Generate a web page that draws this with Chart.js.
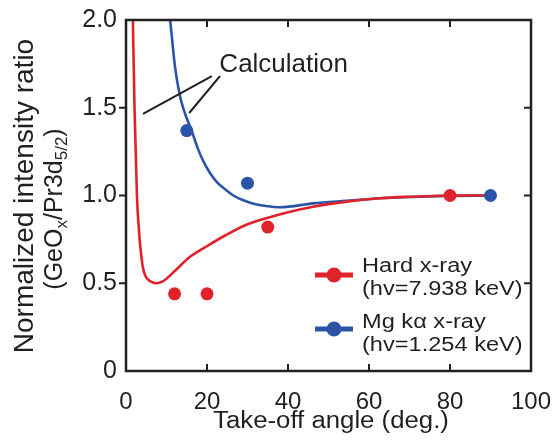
<!DOCTYPE html>
<html><head><meta charset="utf-8">
<script src="https://cdn.jsdelivr.net/npm/chart.js@4.4.1/dist/chart.umd.min.js"></script>
<style>html,body{margin:0;padding:0;background:#fff}#wrap{width:560px;height:448px}</style>
</head><body><div id="wrap"><canvas id="c" width="560" height="448"></canvas></div>
<script>
// ---- data ----
const xTicks = [0, 20, 40, 60, 80, 100];
const yTicks = [0, 0.5, 1.0, 1.5, 2.0];

const hardAngles = [12, 20, 35, 80];
const hardRatios = [0.44, 0.44, 0.82, 1.0];
const mgAngles = [15, 30, 90];
const mgRatios = [1.37, 1.07, 1.0];

const hardCalcAngles = [1.55, 1.7, 2.1, 2.7, 3.2, 4.1, 4.9, 6.2, 7.4, 9.0, 12.3, 15.5, 19.75, 24.7, 29.6, 34.6, 39.5, 46.2, 54.5, 62.7, 70.1, 77.5, 84, 89];
const hardCalcRatios = [2.2, 2.0, 1.5, 1.0, 0.8, 0.6, 0.537, 0.509, 0.50, 0.509, 0.575, 0.645, 0.708, 0.775, 0.832, 0.87, 0.902, 0.936, 0.965, 0.984, 0.993, 0.999, 1.0, 1.0];
const mgCalcAngles = [10.6, 10.9, 12.1, 13.3, 14.1, 15.0, 16.2, 17.7, 19.0, 20.7, 22.5, 24.7, 26.5, 28.8, 31.5, 34.6, 38.0, 46.2, 54.5, 62.7, 72.6, 80, 90];
const mgCalcRatios = [2.06, 2.0, 1.733, 1.57, 1.5, 1.44, 1.37, 1.27, 1.2, 1.13, 1.075, 1.031, 1.0, 0.974, 0.953, 0.94, 0.933, 0.955, 0.970, 0.984, 0.993, 0.998, 1.0];

const legendItems = ["Hard x-ray", "(hv=7.938 keV)", "Mg k\u03b1 x-ray", "(hv=1.254 keV)"];
const xTitle = "Take-off angle (deg.)";
const yTitle1 = "Normalized intensity ratio";
const annotText = "Calculation";

// ---- style ----
const RED = '#e0232b', BLUE = '#2a54a8', INK = '#231f20';
const FONT = '"Liberation Sans", Arial, sans-serif';

function pts(xs, ys) { return xs.map((x, i) => ({x: x, y: ys[i]})); }

function stretchText(ctx, s, x, y, sx, align) {
  ctx.save();
  ctx.translate(x, y);
  ctx.scale(sx, 1);
  ctx.textAlign = align || 'left';
  ctx.fillText(s, 0, 0);
  ctx.restore();
}

const decor = {
  id: 'decor',
  afterDraw(chart) {
    const ctx = chart.ctx, a = chart.chartArea;
    const xs = chart.scales.x, ys = chart.scales.y;
    ctx.save();
    // frame
    ctx.strokeStyle = INK; ctx.lineWidth = 2.5;
    ctx.strokeRect(a.left, a.top, a.right - a.left, a.bottom - a.top);
    // ticks
    ctx.lineWidth = 2;
    xTicks.slice(1, -1).forEach(v => {
      const px = xs.getPixelForValue(v);
      ctx.beginPath(); ctx.moveTo(px, a.bottom); ctx.lineTo(px, a.bottom - 7); ctx.stroke();
      ctx.beginPath(); ctx.moveTo(px, a.top); ctx.lineTo(px, a.top + 7); ctx.stroke();
    });
    yTicks.slice(1, -1).forEach(v => {
      const py = ys.getPixelForValue(v);
      ctx.beginPath(); ctx.moveTo(a.left, py); ctx.lineTo(a.left - 7, py); ctx.stroke();
      ctx.beginPath(); ctx.moveTo(a.right, py); ctx.lineTo(a.right - 7, py); ctx.stroke();
    });

    ctx.fillStyle = INK;
    ctx.textBaseline = 'alphabetic';
    // x title
    ctx.font = '23px ' + FONT;
    stretchText(ctx, xTitle, 331, 428, 1.12, 'center');

    // y title line 1
    ctx.save();
    ctx.translate(33, 196);
    ctx.rotate(-Math.PI / 2);
    ctx.font = '28px ' + FONT;
    ctx.textAlign = 'center';
    ctx.fillText(yTitle1, 0, 0);
    ctx.restore();

    // y title line 2 with subscripts
    const segs = [
      {t: '(GeO', sub: false}, {t: 'x', sub: true}, {t: '/Pr3d', sub: false},
      {t: '5/2', sub: true}, {t: ')', sub: false}
    ];
    const bigF = '25px ' + FONT, smallF = '17px ' + FONT;
    let total = 0;
    segs.forEach(s => { ctx.font = s.sub ? smallF : bigF; s.w = ctx.measureText(s.t).width; total += s.w; });
    ctx.save();
    ctx.translate(62, 209);
    ctx.rotate(-Math.PI / 2);
    ctx.textAlign = 'left';
    let cx = -total / 2;
    segs.forEach(s => {
      ctx.font = s.sub ? smallF : bigF;
      ctx.fillText(s.t, cx, s.sub ? 5 : 0);
      cx += s.w;
    });
    ctx.restore();

    // annotation "Calculation" (data coordinates)
    const P = (x, y) => [xs.getPixelForValue(x), ys.getPixelForValue(y)];
    ctx.font = '26px ' + FONT;
    const tp = P(23.05, 1.705);
    ctx.textAlign = 'left';
    ctx.fillText(annotText, tp[0], tp[1]);
    ctx.strokeStyle = INK; ctx.lineWidth = 2;
    [[21.2, 1.68, 4.2, 1.465], [23.2, 1.68, 15.6, 1.47]].forEach(l => {
      const p1 = P(l[0], l[1]), p2 = P(l[2], l[3]);
      ctx.beginPath(); ctx.moveTo(p1[0], p1[1]); ctx.lineTo(p2[0], p2[1]); ctx.stroke();
    });

    // legend
    const lg = [{c: RED, y: 275, t1: 272, t2: 295, a: legendItems[0], b: legendItems[1]},
                {c: BLUE, y: 329, t1: 328, t2: 351, a: legendItems[2], b: legendItems[3]}];
    lg.forEach(it => {
      ctx.strokeStyle = it.c; ctx.lineWidth = 5;
      ctx.beginPath(); ctx.moveTo(315, it.y); ctx.lineTo(353, it.y); ctx.stroke();
      ctx.fillStyle = it.c;
      ctx.beginPath(); ctx.arc(334, it.y, 7.5, 0, Math.PI * 2); ctx.fill();
      ctx.fillStyle = INK;
      ctx.font = '20px ' + FONT;
      stretchText(ctx, it.a, 362, it.t1, 1.18, 'left');
      stretchText(ctx, it.b, 362, it.t2, 1.18, 'left');
    });
    ctx.restore();
  }
};

new Chart(document.getElementById('c'), {
  type: 'scatter',
  data: {
    datasets: [
      {data: pts(hardAngles, hardRatios), backgroundColor: RED, borderColor: RED, pointRadius: 6.5, pointBorderWidth: 0, showLine: false},
      {data: pts(mgAngles, mgRatios), backgroundColor: BLUE, borderColor: BLUE, pointRadius: 6.5, pointBorderWidth: 0, showLine: false},
      {data: pts(hardCalcAngles, hardCalcRatios), borderColor: RED, borderWidth: 2.6, pointRadius: 0, showLine: true, cubicInterpolationMode: 'monotone'},
      {data: pts(mgCalcAngles, mgCalcRatios), borderColor: BLUE, borderWidth: 2.6, pointRadius: 0, showLine: true, cubicInterpolationMode: 'monotone'}
    ]
  },
  options: {
    responsive: false,
    animation: false,
    devicePixelRatio: 1,
    layout: {padding: {top: 20, right: 29, left: 0, bottom: 0}},
    plugins: {legend: {display: false}, tooltip: {enabled: false}},
    scales: {
      x: {
        type: 'linear', min: 0, max: 100,
        afterBuildTicks: s => { s.ticks = xTicks.map(v => ({value: v})); },
        ticks: {color: INK, font: {family: FONT, size: 24}, padding: 17, maxRotation: 0, autoSkip: false,
                callback: v => String(v)},
        grid: {display: false, drawTicks: false},
        border: {display: false},
        afterFit: s => { s.height = 77; s.paddingLeft = 0; s.paddingRight = 0; }
      },
      y: {
        type: 'linear', min: 0, max: 2,
        afterBuildTicks: s => { s.ticks = yTicks.map(v => ({value: v})); },
        ticks: {color: INK, font: {family: FONT, size: 25}, padding: 9, autoSkip: false,
                callback: v => v === 0 ? '0' : v.toFixed(1)},
        grid: {display: false, drawTicks: false},
        border: {display: false},
        afterFit: s => { s.width = 126; s.paddingTop = 0; s.paddingBottom = 0; }
      }
    }
  },
  plugins: [decor]
});
</script>
</body></html>
